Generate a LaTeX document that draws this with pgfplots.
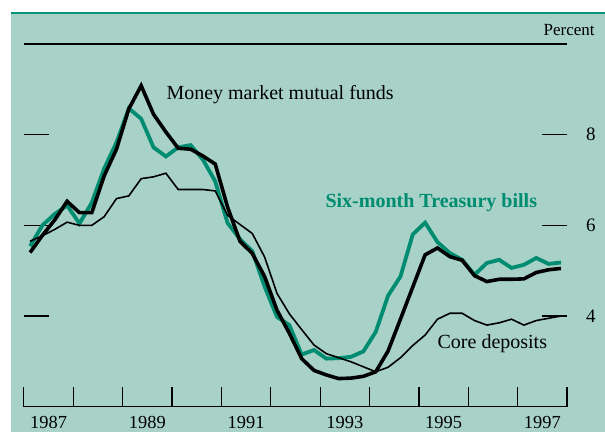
\documentclass[border=0pt]{standalone}
\usepackage{fontspec}
\setmainfont{Liberation Serif}
\usepackage{pgfplots}
\usepackage{pgfplotstable}
\pgfplotsset{compat=1.18}
\definecolor{bg}{RGB}{168,210,200}
\definecolor{tgreen}{RGB}{0,140,112}
\definecolor{topline}{RGB}{0,150,125}

\pgfplotstableread{
t        mmmf  tbill core
1987.125 5.40  5.54  5.65
1987.375 5.78  6.00  5.77
1987.625 6.12  6.25  5.91
1987.875 6.53  6.44  6.07
1988.125 6.28  6.04  6.00
1988.375 6.28  6.50  6.00
1988.625 7.09  7.25  6.19
1988.875 7.68  7.83  6.59
1989.125 8.57  8.58  6.65
1989.375 9.08  8.35  7.03
1989.625 8.45  7.72  7.07
1989.875 8.06  7.52  7.15
1990.125 7.70  7.72  6.79
1990.375 7.68  7.77  6.79
1990.625 7.53  7.45  6.79
1990.875 7.35  6.97  6.76
1991.125 6.40  6.05  6.22
1991.375 5.65  5.70  6.02
1991.625 5.38  5.43  5.82
1991.875 4.87  4.65  5.30
1992.125 4.13  3.98  4.50
1992.375 3.62  3.80  4.05
1992.625 3.06  3.15  3.70
1992.875 2.80  3.25  3.36
1993.125 2.70  3.06  3.17
1993.375 2.62  3.07  3.08
1993.625 2.63  3.10  2.99
1993.875 2.67  3.22  2.88
1994.125 2.77  3.65  2.77
1994.375 3.23  4.45  2.87
1994.625 3.93  4.87  3.08
1994.875 4.64  5.80  3.35
1995.125 5.35  6.06  3.58
1995.375 5.50  5.63  3.93
1995.625 5.31  5.39  4.06
1995.875 5.23  5.24  4.06
1996.125 4.89  4.91  3.90
1996.375 4.76  5.17  3.80
1996.625 4.81  5.24  3.85
1996.875 4.81  5.06  3.93
1997.125 4.82  5.13  3.80
1997.375 4.96  5.28  3.90
1997.625 5.02  5.15  3.95
1997.875 5.05  5.18  4.00
}\datatable

\begin{document}
\begin{tikzpicture}
\path[use as bounding box] (-11.95pt,-12.65pt) rectangle (290.55pt,203.35pt);
\fill[bg] (-6.3pt,-12.65pt) rectangle (290.55pt,197.35pt);
\draw[topline, line width=1.2pt] (-6.3pt,196.85pt) -- (290.55pt,196.85pt);
\begin{axis}[
  at={(0,0)}, anchor=south west,
  scale only axis, width=271.6pt, height=181.35pt,
  xmin=1987, xmax=1998, ymin=2, ymax=10,
  separate axis lines,
  x axis line style={black, line width=0.6pt},
  y axis line style={draw=none},
  xtick={1987,...,1998},
  xticklabels={1987,,1989,,1991,,1993,,1995,,1997,},
  xtick pos=left,
  tick align=inside,
  major tick length=9.7pt,
  tick style={black, line width=0.6pt},
  ytick=\empty,
  xticklabel style={font=\fontsize{9.2}{10}\selectfont, xshift=12.35pt, yshift=-1.5pt},
  /pgf/number format/assume math mode=true,
]
\end{axis}
\begin{axis}[
  at={(0,0)}, anchor=south west,
  scale only axis, width=271.6pt, height=181.35pt,
  xmin=1987, xmax=1998, ymin=2, ymax=10,
  axis line style={draw=none},
  xtick=\empty,
  ytick={4,6,8},
  yticklabel pos=right,
  ytick pos=both,
  tick align=inside,
  major tick length=12.5pt,
  tick style={black, line width=0.6pt},
  yticklabel style={font=\fontsize{9.5}{10}\selectfont, xshift=6pt},
  /pgf/number format/assume math mode=true,
  clip=false,
]
\addplot[tgreen, line width=1.9pt] table[x=t, y=tbill] {\datatable};
\addplot[black, line width=1.8pt] table[x=t, y=mmmf] {\datatable};
\addplot[black, line width=0.8pt] table[x=t, y=core] {\datatable};
\node[anchor=west, inner sep=0pt, font=\fontsize{10}{12}\selectfont] at (axis cs:1989.88,8.875) {Money market mutual funds};
\node[anchor=west, inner sep=0pt, font=\bfseries\fontsize{10}{12}\selectfont, text=tgreen] at (axis cs:1993.10,6.49) {Six-month Treasury bills};
\node[anchor=west, inner sep=0pt, font=\fontsize{10}{12}\selectfont] at (axis cs:1995.37,3.38) {Core deposits};
\end{axis}
\node[anchor=east, inner sep=0pt, font=\fontsize{8.5}{10}\selectfont] at (285.55pt,188.35pt) {Percent};
\end{tikzpicture}
\end{document}
